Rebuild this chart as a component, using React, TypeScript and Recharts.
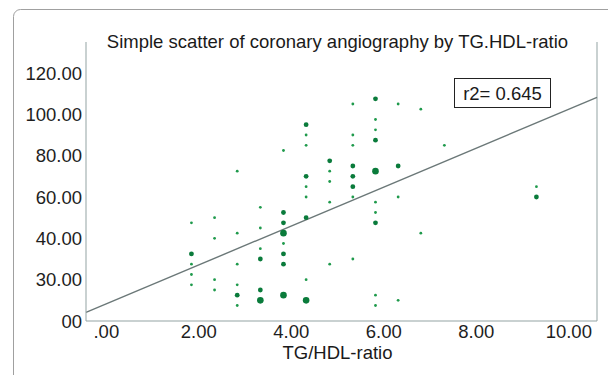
import { ReferenceLine, Scatter, ScatterChart, XAxis, YAxis } from 'recharts'

// TG/HDL ratio columns, angiography score, dot size class (1 small, 2 medium, 3 large)
const ratio = [
  1.84, 1.84, 1.84, 1.84, 1.84,
  2.34, 2.34, 2.34, 2.34,
  2.83, 2.83, 2.83, 2.83, 2.83, 2.83,
  3.33, 3.33, 3.33, 3.33, 3.33, 3.33,
  3.83, 3.83, 3.83, 3.83, 3.83, 3.83, 3.83, 3.83,
  4.32, 4.32, 4.32, 4.32, 4.32, 4.32, 4.32, 4.32, 4.32,
  4.83, 4.83, 4.83, 4.83, 4.83,
  5.33, 5.33, 5.33, 5.33, 5.33, 5.33, 5.33, 5.33,
  5.82, 5.82, 5.82, 5.82, 5.82, 5.82, 5.82, 5.82, 5.82, 5.82,
  6.31, 6.31, 6.31, 6.31,
  6.8, 6.8,
  7.31,
  9.3, 9.3,
]
const angio = [
  47.5, 32.5, 27.5, 22.5, 17.5,
  50, 40, 20, 15,
  72.5, 42.5, 27.5, 17.5, 12.5, 7.5,
  55, 45, 35, 30, 15, 10,
  82.5, 52.5, 47.5, 42.5, 37.5, 32.5, 27.5, 12.5,
  95, 90, 85, 70, 65, 60, 50, 20, 10,
  77.5, 72.5, 67.5, 57.5, 27.5,
  105, 90, 85, 75, 70, 65, 60, 30,
  107.5, 97.5, 92.5, 87.5, 72.5, 57.5, 52.5, 47.5, 12.5, 7.5,
  105, 75, 60, 10,
  102.5, 42.5,
  85,
  65, 60,
]
const dotSize = [
  1, 2, 1, 1, 1,
  1, 1, 1, 1,
  1, 1, 1, 1, 2, 1,
  1, 1, 1, 2, 2, 3,
  1, 2, 2, 3, 1, 2, 2, 3,
  2, 1, 1, 2, 1, 1, 2, 1, 3,
  2, 1, 1, 1, 1,
  1, 1, 1, 2, 2, 2, 1, 1,
  2, 1, 1, 2, 3, 1, 1, 2, 1, 1,
  1, 2, 1, 1,
  1, 1,
  1,
  1, 2,
]

const xTicks = [0, 2, 4, 6, 8, 10]
const xTickLabels = ['.00', '2.00', '4.00', '6.00', '8.00', '10.00']
const yTicks = [0, 20, 40, 60, 80, 100, 120]
const yTickLabels = ['00', '30.00', '40.00', '60.00', '80.00', '100.00', '120.00']

const fitIntercept = 8.3
const fitSlope = 9.42
const xDomain: [number, number] = [-0.44, 10.61]
const yDomain: [number, number] = [0, 135]

const points = ratio.map((x, i) => ({ x, y: angio[i], s: dotSize[i] }))
const fitLine = xDomain.map((x) => ({ x, y: fitIntercept + fitSlope * x }))

const font = '"Liberation Sans", Arial, sans-serif'
const fs = 18.5
const axisGrey = '#93a3a3'

const Dot = (props: any) => {
  const { cx, cy, payload } = props
  const r = payload.s === 3 ? 3.3 : payload.s === 2 ? 2.4 : 1.4
  const fill = payload.s === 1 ? '#1f9a4c' : '#0a7b3b'
  return <circle cx={cx} cy={cy} r={r} fill={fill} />
}

export default function App() {
  return (
    <div style={{ position: 'absolute', left: 0, top: 0, width: 608, height: 375, background: '#fff' }}>
      <ScatterChart width={608} height={375} margin={{ top: 42, right: 11, bottom: 0, left: 0 }}>
        <rect x={13.5} y={9.5} width={640} height={380} rx={7} fill="none" stroke="#a0a0a0" />
        <XAxis
          type="number"
          dataKey="x"
          domain={xDomain}
          ticks={xTicks}
          allowDataOverflow
          height={54}
          tickLine={false}
          tickSize={0}
          tickMargin={4}
          axisLine={{ stroke: axisGrey }}
          tick={{ fill: '#1e1e1e', fontSize: fs, fontFamily: font }}
          tickFormatter={(v: number) => xTickLabels[xTicks.indexOf(v)] ?? ''}
        />
        <YAxis
          type="number"
          dataKey="y"
          domain={yDomain}
          ticks={yTicks}
          allowDataOverflow
          width={86}
          tickLine={false}
          tickSize={0}
          tickMargin={4}
          axisLine={{ stroke: axisGrey }}
          tick={{ fill: '#1e1e1e', fontSize: fs, fontFamily: font }}
          tickFormatter={(v: number) => yTickLabels[yTicks.indexOf(v)] ?? ''}
        />
        <ReferenceLine x={xDomain[1]} stroke={axisGrey} />
        <ReferenceLine
          segment={[fitLine[0], fitLine[1]]}
          stroke="#6b7878"
          strokeWidth={1.4}
          ifOverflow="visible"
        />
        <Scatter data={points} shape={Dot} isAnimationActive={false} />
        <text x={337.5} y={48} textAnchor="middle" fontSize={fs} fontFamily={font} fill="#1a1a1a">
          Simple scatter of coronary angiography by TG.HDL-ratio
        </text>
        <rect x={454.5} y={78.5} width={96} height={29} fill="#fff" stroke="#222" />
        <text x={502.5} y={100} textAnchor="middle" fontSize={fs} fontFamily={font} fill="#1a1a1a">
          r2= 0.645
        </text>
        <text x={337.5} y={359} textAnchor="middle" fontSize={fs} fontFamily={font} fill="#1a1a1a">
          TG/HDL-ratio
        </text>
      </ScatterChart>
    </div>
  )
}
